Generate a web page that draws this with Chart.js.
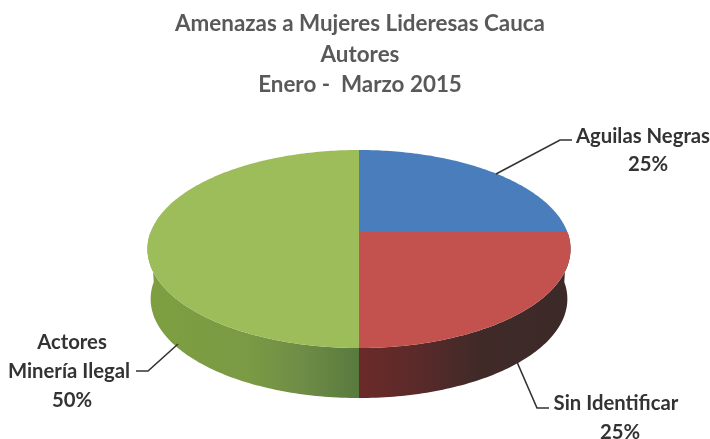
<!DOCTYPE html>
<html>
<head>
<meta charset="utf-8">
<style>
  html, body { margin: 0; padding: 0; background: #fff; }
  #wrap { width: 710px; height: 439px; }
</style>
<script src="https://cdn.jsdelivr.net/npm/chart.js@4"></script>
</head>
<body>
<div id="wrap"><canvas id="pieChart"></canvas></div>
<script>
const titleLines = ['Amenazas a Mujeres Lideresas Cauca', 'Autores', 'Enero -  Marzo 2015'];
const categories = ['Aguilas Negras', 'Sin Identificar', 'Actores Minería Ilegal'];
const labelLines = [['Aguilas Negras'], ['Sin Identificar'], ['Actores', 'Minería Ilegal']];
const values = [25, 25, 50];
const colors = ['#4a7dbb', '#c3514e', '#9dbc5a'];

// where each label and its leader line sit
const labelStyle = [
  { x: [643, 648], y: [135, 163], line: [[496, 174], [560, 140], [572, 140]] },
  { x: [616, 620], y: [402, 431], line: [[517, 362], [537, 408], [549, 408]] },
  { x: [72, 69, 72], y: [341, 370, 399], line: [[178, 344], [148, 371], [136, 371]] }
];

// the tilted disc: centre, width, front/back stretch and thickness
const disc = { cx: 359, cy: 232, rx: 208.4, ry: 96.1, persp: 0.1717, depth: 50 };

function project(angle, drop) {
  const w = 1 - disc.persp * Math.sin(angle);
  const shrink = drop ? 0.985 : 1;
  return {
    x: disc.cx + shrink * disc.rx * Math.cos(angle) / w,
    y: disc.cy + disc.ry * Math.sin(angle) / w + drop
  };
}

function wallGradient(ctx, i) {
  const g = ctx.createLinearGradient(148, 0, 571, 0);
  if (i === 2) {
    g.addColorStop(0, '#7e9f40');
    g.addColorStop(0.24, '#7a9a44');
    g.addColorStop(0.36, '#6f8d46');
    g.addColorStop(0.5, '#587a3e');
    g.addColorStop(1, '#587a3e');
  } else {
    g.addColorStop(0, '#6b2a28');
    g.addColorStop(0.5, '#6b2a28');
    g.addColorStop(0.64, '#5a2a2a');
    g.addColorStop(0.78, '#402a28');
    g.addColorStop(1, '#3c2a28');
  }
  return g;
}

// paints the arcs Chart.js laid out, through the disc projection
const discPlugin = {
  id: 'disc',
  beforeDatasetDraw(chart) {
    const ctx = chart.ctx;
    const arcs = chart.getDatasetMeta(0).data;
    const step = Math.PI / 180;

    arcs.forEach((arc, i) => {
      const from = Math.max(arc.startAngle, 0);
      const to = Math.min(arc.endAngle, Math.PI);
      if (to <= from) return;
      ctx.beginPath();
      for (let a = from; a <= to + 1e-6; a += step) {
        const p = project(a, 0);
        ctx.lineTo(p.x, p.y);
      }
      for (let a = to; a >= from - 1e-6; a -= step) {
        const p = project(a, disc.depth);
        ctx.lineTo(p.x, p.y);
      }
      ctx.closePath();
      ctx.fillStyle = wallGradient(ctx, i);
      ctx.fill();
    });

    arcs.forEach((arc, i) => {
      ctx.beginPath();
      ctx.moveTo(disc.cx, disc.cy);
      for (let a = arc.startAngle; a <= arc.endAngle + 1e-6; a += step) {
        const p = project(a, 0);
        ctx.lineTo(p.x, p.y);
      }
      ctx.closePath();
      ctx.fillStyle = colors[i];
      ctx.fill();
    });
    return false;
  },
  afterDatasetsDraw(chart) {
    const ctx = chart.ctx;
    const total = values.reduce((a, b) => a + b, 0);
    ctx.save();
    ctx.font = 'bold 20.3px Lato';
    ctx.textAlign = 'center';
    ctx.textBaseline = 'middle';
    categories.forEach((name, i) => {
      const s = labelStyle[i];
      ctx.strokeStyle = '#333333';
      ctx.lineWidth = 1.6;
      ctx.beginPath();
      s.line.forEach(p => ctx.lineTo(p[0], p[1]));
      ctx.stroke();
      ctx.fillStyle = '#333333';
      const lines = labelLines[i].concat(Math.round(values[i] / total * 100) + '%');
      lines.forEach((text, j) => ctx.fillText(text, s.x[j], s.y[j] + 1));
    });
    ctx.restore();
  }
};

new Chart(document.getElementById('pieChart'), {
  type: 'pie',
  data: {
    labels: categories,
    datasets: [{ data: values, backgroundColor: colors, borderWidth: 0 }]
  },
  options: {
    responsive: true,
    maintainAspectRatio: false,
    animation: false,
    layout: { padding: { left: 10 } },
    plugins: {
      legend: { display: false },
      tooltip: { enabled: false },
      title: {
        display: true,
        text: titleLines,
        color: '#595959',
        font: { family: 'Lato', size: 22.4, weight: 'bold', lineHeight: 1.36 },
        padding: { top: 9, bottom: 10 }
      }
    }
  },
  plugins: [discPlugin]
});
</script>
</body>
</html>
